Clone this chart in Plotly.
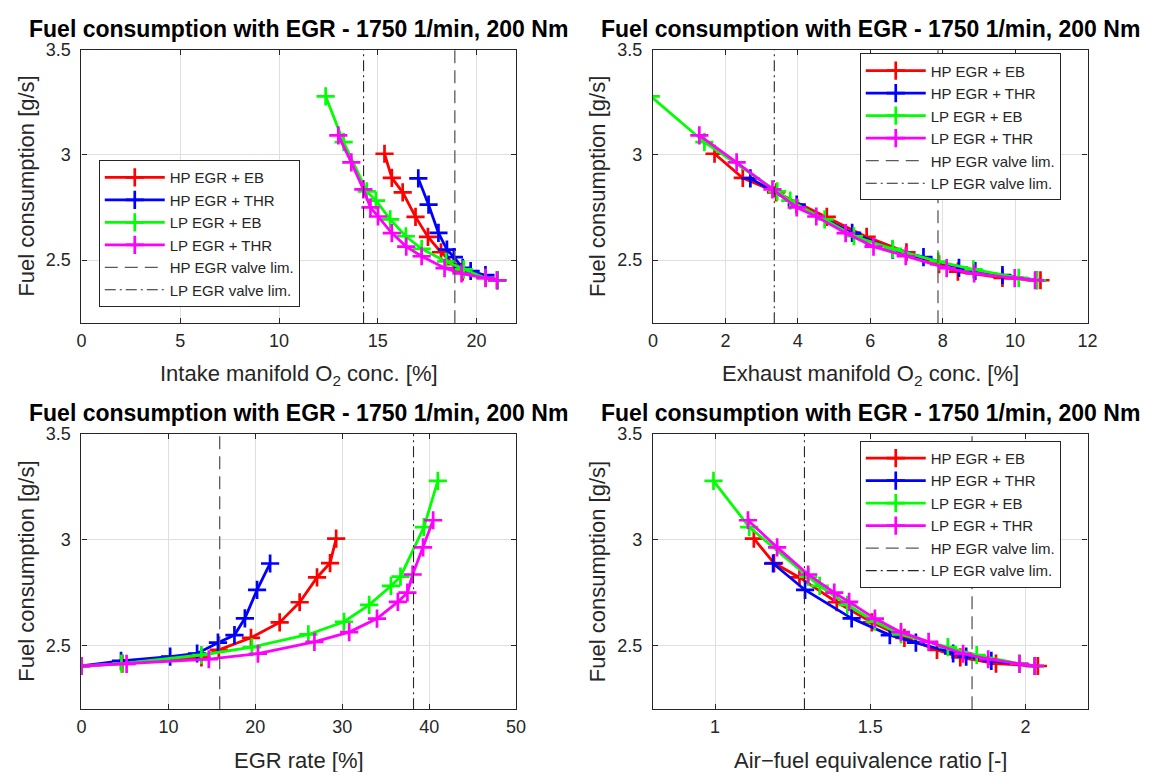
import plotly.graph_objects as go

# ---------------- data ----------------
FC_HP_EB = [3.005, 2.890, 2.822, 2.705, 2.610, 2.537, 2.480, 2.445, 2.415, 2.404]
IN_HP_EB = [15.34, 15.71, 16.26, 16.91, 17.54, 18.20, 18.85, 19.30, 20.45, 21.05]
EX_HP_EB = [1.70, 2.48, 3.40, 4.80, 5.90, 7.00, 7.90, 8.42, 9.65, 10.70]
EGR_HP_EB = [29.3, 28.6, 27.1, 25.1, 22.8, 19.5, 15.8, 13.8, 4.7, 0.0]
LAM_HP_EB = [1.125, 1.190, 1.272, 1.392, 1.505, 1.610, 1.715, 1.790, 1.905, 2.040]

FC_HP_THR = [2.888, 2.763, 2.629, 2.550, 2.514, 2.463, 2.448, 2.428, 2.404]
IN_HP_THR = [17.05, 17.57, 18.07, 18.50, 18.85, 19.30, 19.70, 20.45, 21.05]
EX_HP_THR = [2.69, 3.97, 5.50, 6.62, 7.47, 8.45, 8.90, 9.65, 10.60]
EGR_HP_THR = [21.7, 20.2, 18.8, 17.6, 15.7, 13.3, 10.2, 4.55, 0.0]
LAM_HP_THR = [1.187, 1.290, 1.440, 1.563, 1.647, 1.767, 1.809, 1.890, 2.030]

FC_LP_EB = [3.278, 3.060, 2.826, 2.782, 2.693, 2.613, 2.553, 2.493, 2.456, 2.415, 2.404]
IN_LP_EB = [12.36, 13.27, 14.44, 14.91, 15.63, 16.42, 17.22, 18.46, 19.35, 20.45, 21.05]
EX_LP_EB = [-0.06, 1.42, 3.43, 3.79, 4.74, 5.55, 6.62, 7.88, 8.85, 10.10, 10.60]
EGR_LP_EB = [41.0, 39.4, 36.7, 35.6, 33.1, 30.2, 26.1, 19.6, 13.8, 4.6, 0.0]
LAM_LP_EB = [0.995, 1.110, 1.300, 1.337, 1.426, 1.515, 1.599, 1.750, 1.843, 1.980, 2.030]

FC_LP_THR = [3.092, 2.964, 2.836, 2.750, 2.707, 2.628, 2.564, 2.518, 2.462, 2.436, 2.414, 2.404]
IN_LP_THR = [13.00, 13.66, 14.27, 14.63, 15.01, 15.71, 16.44, 17.22, 18.38, 19.24, 20.46, 21.03]
EX_LP_THR = [1.28, 2.31, 3.30, 3.97, 4.51, 5.32, 6.09, 6.98, 8.11, 8.87, 9.99, 10.55]
EGR_LP_THR = [40.46, 39.3, 38.1, 37.5, 36.4, 34.0, 30.8, 26.8, 20.3, 14.65, 5.19, 0.0]
LAM_LP_THR = [1.106, 1.200, 1.300, 1.384, 1.432, 1.515, 1.599, 1.688, 1.799, 1.880, 1.981, 2.030]

# valve limits per panel: intake O2, exhaust O2, EGR rate, lambda
HP_VALVE_LIM = [18.9, 7.87, 15.9, 1.828]
LP_VALVE_LIM = [14.28, 3.35, 38.2, 1.288]

SERIES_NAMES = ["HP EGR + EB", "HP EGR + THR", "LP EGR + EB", "LP EGR + THR"]
SERIES_COLORS = ["#FF0000", "#0000FF", "#00FF00", "#FF00FF"]
SERIES_FC = [FC_HP_EB, FC_HP_THR, FC_LP_EB, FC_LP_THR]
SERIES_X = [
    [IN_HP_EB, IN_HP_THR, IN_LP_EB, IN_LP_THR],
    [EX_HP_EB, EX_HP_THR, EX_LP_EB, EX_LP_THR],
    [EGR_HP_EB, EGR_HP_THR, EGR_LP_EB, EGR_LP_THR],
    [LAM_HP_EB, LAM_HP_THR, LAM_LP_EB, LAM_LP_THR],
]

TITLE = "<b>Fuel consumption with EGR - 1750 1/min, 200 Nm</b>"
X_LABELS = ["Intake manifold O<sub>2</sub> conc. [%]",
            "Exhaust manifold O<sub>2</sub> conc. [%]",
            "EGR rate [%]",
            "Air\u2212fuel equivalence ratio [-]"]
Y_LABEL = "Fuel consumption [g/s]"
X_RANGES = [[0, 22], [0, 12], [0, 50], [0.8, 2.2]]
X_DTICK = [5, 2, 10, 0.5]
Y_RANGE = [2.2, 3.5]
LEGENDS = ["legend", "legend2", None, "legend3"]

# ---------------- layout geometry ----------------
W, H = 1154, 772
COLS = [(77.5, 517.8), (656.5, 1096.8)]
ROWS = [(40.1, 317.3), (429.4, 708.4)]
FONT = "Liberation Sans, Arial, sans-serif"
TXT = "#262626"

fig = go.Figure()

for p in range(4):
    sfx = "" if p == 0 else str(p + 1)
    xa, ya = "x" + sfx, "y" + sfx
    leg = LEGENDS[p]
    for s in range(4):
        col = SERIES_COLORS[s]
        fig.add_trace(go.Scatter(
            x=SERIES_X[p][s], y=SERIES_FC[s], name=SERIES_NAMES[s],
            mode="lines+markers",
            line=dict(color=col, width=2.8),
            marker=dict(symbol="cross-thin", size=13, color=col,
                        line=dict(color=col, width=2.7)),
            xaxis=xa, yaxis=ya,
            showlegend=leg is not None, legend=leg or "legend"))
    fig.add_trace(go.Scatter(
        x=[HP_VALVE_LIM[p], HP_VALVE_LIM[p]], y=Y_RANGE, name="HP EGR valve lim.",
        mode="lines", line=dict(color="#5a5a5a", width=1.3, dash="13px,7px"),
        xaxis=xa, yaxis=ya, showlegend=leg is not None, legend=leg or "legend"))
    fig.add_trace(go.Scatter(
        x=[LP_VALVE_LIM[p], LP_VALVE_LIM[p]], y=Y_RANGE, name="LP EGR valve lim.",
        mode="lines", line=dict(color="#262626", width=1.1, dash="11px,4px,2px,4px"),
        xaxis=xa, yaxis=ya, showlegend=leg is not None, legend=leg or "legend"))

axis_common = dict(showline=True, linecolor=TXT, linewidth=1.4, mirror="allticks",
                   ticks="inside", ticklen=5, tickcolor=TXT, tickwidth=1,
                   showgrid=True, gridcolor="#dfdfdf", gridwidth=1, zeroline=False,
                   tickfont=dict(family=FONT, size=18, color=TXT))

layout = dict(width=W, height=H, margin=dict(l=0, r=0, t=0, b=0),
              paper_bgcolor="white", plot_bgcolor="white", font=dict(family=FONT, color=TXT))
annotations = []
for p in range(4):
    r, c = divmod(p, 2)
    sfx = "" if p == 0 else str(p + 1)
    x0, x1 = COLS[c]
    y0, y1 = ROWS[r]
    layout["xaxis" + sfx] = dict(axis_common, domain=[x0 / W, x1 / W], range=X_RANGES[p],
                                 tick0=0, dtick=X_DTICK[p], anchor="y" + sfx,
                                 ticklabelstandoff=1)
    layout["yaxis" + sfx] = dict(axis_common, domain=[1 - y1 / H, 1 - y0 / H], range=Y_RANGE,
                                 tick0=0, dtick=0.5, anchor="x" + sfx,
                                 ticklabelstandoff=6)
    cx = (x0 + x1) / 2 / W
    annotations.append(dict(text=TITLE, x=cx, y=1 - (y0 - 21) / H, xref="paper", yref="paper",
                            xanchor="center", yanchor="middle", showarrow=False,
                            font=dict(family=FONT, size=23, color="black")))
    annotations.append(dict(text=X_LABELS[p], x=cx, y=1 - (y1 + 52) / H, xref="paper",
                            yref="paper", xanchor="center", yanchor="middle", showarrow=False,
                            font=dict(family=FONT, size=22, color=TXT)))
    annotations.append(dict(text=Y_LABEL, x=(x0 - 56) / W, y=1 - (y0 + y1) / 2 / H,
                            xref="paper", yref="paper", xanchor="center", yanchor="middle",
                            textangle=-90, showarrow=False,
                            font=dict(family=FONT, size=22, color=TXT)))
layout["annotations"] = annotations

leg_common = dict(bgcolor="white", bordercolor=TXT, borderwidth=1, xanchor="left",
                  yanchor="top", itemwidth=60, font=dict(family=FONT, size=15, color=TXT),
                  tracegroupgap=0, itemclick=False)
layout["legend"] = dict(leg_common, x=95 / W, y=1 - 152 / H)
layout["legend2"] = dict(leg_common, x=866 / W, y=1 - 44 / H)
layout["legend3"] = dict(leg_common, x=866 / W, y=1 - 436.5 / H)

fig.update_layout(**layout)
fig.write_html("out.html")
